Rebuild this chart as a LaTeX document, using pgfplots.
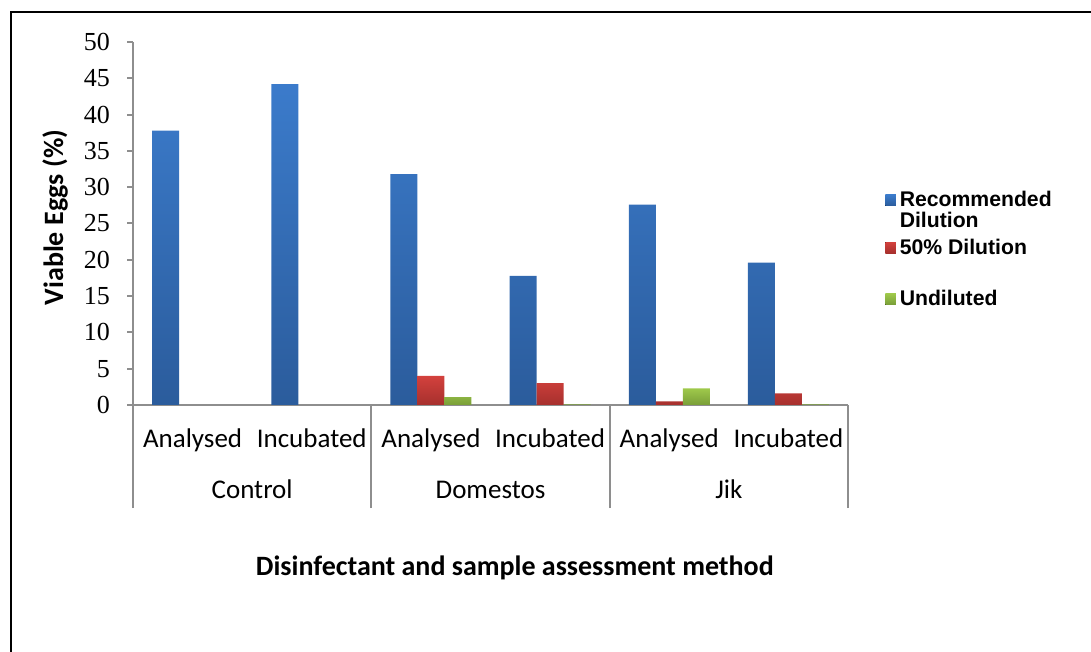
\documentclass[border=0pt]{standalone}
\usepackage{fontspec}
\setmainfont{Carlito}
\newfontfamily\timesf{Liberation Serif}
\newfontfamily\arialf{Liberation Sans}
\usepackage{pgfplots}
\pgfplotsset{compat=1.18}

\definecolor{blueT}{HTML}{3B7BCB}
\definecolor{blueB}{HTML}{2B5C9C}
\definecolor{redT}{HTML}{D3413D}
\definecolor{redB}{HTML}{A6302D}
\definecolor{greenT}{HTML}{9FC94B}
\definecolor{greenB}{HTML}{799E38}
\definecolor{axisgray}{HTML}{8E8E8E}

% square raised to the first line of a two-line entry
\pgfplotsset{twoline legend/.style={legend image code/.code={\fill[##1] (0pt,2.75pt) rectangle (5.2pt,8.25pt);}}}

\begin{document}
\begin{tikzpicture}
\useasboundingbox (0,0) rectangle (545.5pt,326pt);
\draw[line width=1pt] (5.25pt,0) -- (5.25pt,319.75pt) -- (545.5pt,319.75pt);
\begin{axis}[
  at={(66.5pt,123.5pt)}, anchor=south west,
  scale only axis, width=357.5pt, height=181.5pt,
  ybar=0pt, bar width=13.5pt,
  xmin=-0.5, xmax=5.5, ymin=0, ymax=50,
  ytick={0,5,...,50},
  xtick={0,...,5},
  xticklabels={Analysed,Incubated,Analysed,Incubated,Analysed,Incubated},
  axis lines*=left,
  axis line style={axisgray, line width=1pt},
  tick align=outside,
  major tick length=3pt,
  ytick style={axisgray, line width=1pt},
  xtick style={draw=none},
  extra x ticks={-0.5,1.5,3.5,5.5},
  extra x tick labels={},
  extra x tick style={major tick length=51.5pt, xtick style={draw=axisgray, line width=1pt}},
  /pgf/number format/assume math mode=true,
  yticklabel style={font=\timesf\fontsize{13}{15}\selectfont, xshift=-5pt},
  xticklabel style={font=\fontsize{13.5}{15}\selectfont, anchor=base, yshift=-18.5pt},
  xlabel={Disinfectant and sample assessment method},
  xlabel style={at={(axis description cs:0.534,-0.471)}, anchor=base, font=\bfseries\fontsize{14}{16}\selectfont},
  ylabel={Viable Eggs (\%)},
  ylabel style={at={(axis description cs:-0.109,0.5165)}, anchor=center, font=\bfseries\fontsize{14}{16}\selectfont},
  clip=false,
  legend style={at={(axis description cs:1.0517,0.600)}, anchor=north west, draw=none, fill=none,
    inner sep=0pt, row sep=0pt, font=\arialf\bfseries\fontsize{10.6}{10.5}\selectfont,
    cells={align=left}},
  legend cell align=left,
  legend image code/.code={\fill[#1] (0pt,-2.5pt) rectangle (5.2pt,3pt);},
]
\addplot[draw=none, top color=blueT, bottom color=blueB, twoline legend] coordinates {
  (0,37.8) (1,44.2) (2,31.8) (3,17.8) (4,27.6) (5,19.6)};
\addlegendentry{Recommended\\Dilution}
\addplot[draw=none, top color=redT, bottom color=redB] coordinates {
  (2,4.0) (3,3.0) (4,0.5) (5,1.6)};
\addlegendentry{50\% Dilution}
\addlegendimage{empty legend}
\addlegendentry{\rule{0pt}{7pt}}
\addplot[draw=none, top color=greenT, bottom color=greenB] coordinates {
  (2,1.1) (3,0.1) (4,2.3) (5,0.1)};
\addlegendentry{Undiluted}

\node[anchor=base, yshift=-47pt, font=\fontsize{13.5}{15}\selectfont] at (axis cs:0.5,0) {Control};
\node[anchor=base, yshift=-47pt, font=\fontsize{13.5}{15}\selectfont] at (axis cs:2.5,0) {Domestos};
\node[anchor=base, yshift=-47pt, font=\fontsize{13.5}{15}\selectfont] at (axis cs:4.5,0) {Jik};
\end{axis}
\end{tikzpicture}
\end{document}
